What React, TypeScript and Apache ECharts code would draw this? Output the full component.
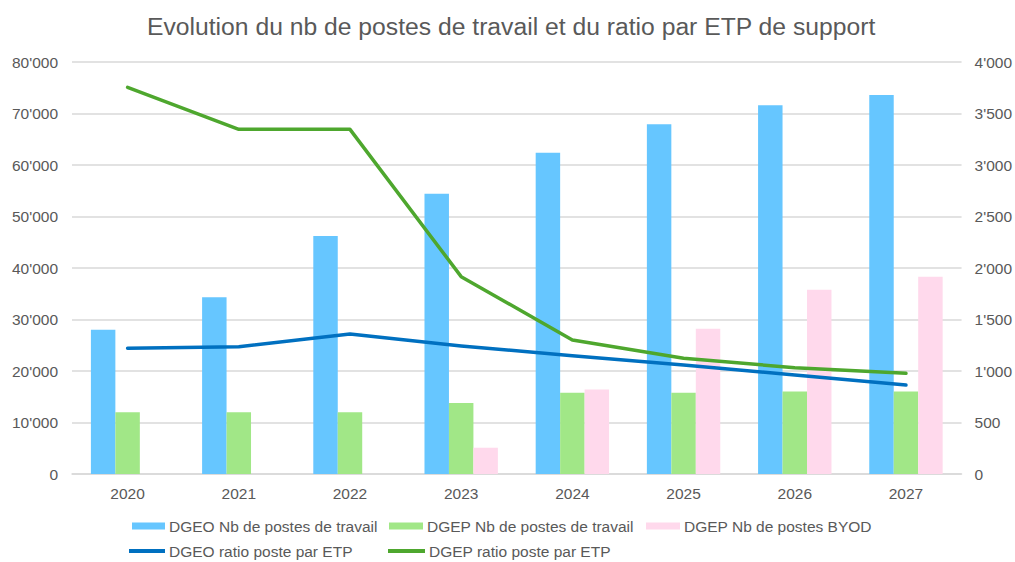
import React, { useEffect, useRef } from "react";
import * as echarts from "echarts";

const years = ["2020", "2021", "2022", "2023", "2024", "2025", "2026", "2027"];
const dgeoPostes = [28000, 34300, 46200, 54400, 62400, 67900, 71600, 73600];
const dgepPostes = [12000, 12000, 12000, 13800, 15800, 15800, 16000, 16000];
const dgepByod = [null, null, null, 5100, 16400, 28200, 35800, 38300];
const dgeoRatio = [1220, 1236, 1359, 1243, 1149, 1058, 961, 864];
const dgepRatio = [3754, 3346, 3346, 1916, 1301, 1123, 1032, 977];

const names = [
  "DGEO Nb de postes de travail",
  "DGEP Nb de postes de travail",
  "DGEP Nb de postes BYOD",
  "DGEO ratio poste par ETP",
  "DGEP ratio poste par ETP",
];

const FONT = "Liberation Sans, Arial, sans-serif";
const TXT = "#595959";
const fmt = (v: number) => String(v).replace(/\B(?=(\d{3})+(?!\d))/g, "'");

export default function App() {
  const ref = useRef<HTMLDivElement>(null);
  useEffect(() => {
    const chart = echarts.init(ref.current!, null, { renderer: "svg" });
    const legendBase = {
      padding: 0,
      itemGap: 0,
      textStyle: { fontFamily: FONT, fontSize: 15.5, color: TXT, padding: [0, 0, 0, -1] },
      selectedMode: false,
    };
    chart.setOption({
      animation: false,
      backgroundColor: "#fff",
      title: {
        text: "Evolution du nb de postes de travail et du ratio par ETP de support",
        left: 147,
        top: 14,
        padding: 0,
        textStyle: { fontFamily: FONT, fontSize: 24.7, fontWeight: "normal", color: TXT },
      },
      legend: [
        { ...legendBase, data: [{ name: names[0], icon: "rect" }], left: 132, top: 518, itemWidth: 33, itemHeight: 7 },
        { ...legendBase, data: [{ name: names[1], icon: "rect" }], left: 389, top: 518, itemWidth: 34, itemHeight: 7 },
        { ...legendBase, data: [{ name: names[2], icon: "rect" }], left: 646, top: 518, itemWidth: 34, itemHeight: 7 },
        { ...legendBase, data: [{ name: names[3], icon: "rect" }], left: 129, top: 543, itemWidth: 36, itemHeight: 4 },
        { ...legendBase, data: [{ name: names[4], icon: "rect" }], left: 388, top: 543, itemWidth: 37, itemHeight: 4 },
      ],
      grid: { left: 72, right: 53, top: 62, bottom: 88, containLabel: false },
      xAxis: {
        type: "category",
        data: years,
        axisLine: { lineStyle: { color: "#D9D9D9", width: 1.5 } },
        axisTick: { show: false },
        axisLabel: { fontFamily: FONT, fontSize: 15.5, color: TXT, margin: 11 },
      },
      yAxis: [
        {
          type: "value",
          min: 0,
          max: 80000,
          interval: 10000,
          axisLine: { show: false },
          axisTick: { show: false },
          splitLine: { lineStyle: { color: "#D9D9D9", width: 1.5 } },
          axisLabel: { fontFamily: FONT, fontSize: 15.5, color: TXT, margin: 14, formatter: fmt },
        },
        {
          type: "value",
          min: 0,
          max: 4000,
          interval: 500,
          axisLine: { show: false },
          axisTick: { show: false },
          splitLine: { show: false },
          axisLabel: { fontFamily: FONT, fontSize: 15.5, color: TXT, margin: 13, formatter: fmt },
        },
      ],
      series: [
        {
          name: names[0],
          type: "bar",
          data: dgeoPostes,
          itemStyle: { color: "#66C6FF" },
          barGap: "0%",
          barCategoryGap: "34%",
        },
        {
          name: names[1],
          type: "bar",
          data: dgepPostes,
          itemStyle: { color: "#A1E787" },
          barGap: "0%",
          barCategoryGap: "34%",
        },
        {
          name: names[2],
          type: "bar",
          data: dgepByod,
          itemStyle: { color: "#FFD9EC" },
          barGap: "0%",
          barCategoryGap: "34%",
        },
        {
          name: names[3],
          type: "line",
          yAxisIndex: 1,
          data: dgeoRatio,
          symbol: "none",
          itemStyle: { color: "#0070C0" },
          lineStyle: { color: "#0070C0", width: 3.5, cap: "round", join: "round" },
        },
        {
          name: names[4],
          type: "line",
          yAxisIndex: 1,
          data: dgepRatio,
          symbol: "none",
          itemStyle: { color: "#4EA72E" },
          lineStyle: { color: "#4EA72E", width: 3.5, cap: "round", join: "round" },
        },
      ],
    });
    return () => chart.dispose();
  }, []);
  return <div ref={ref} style={{ width: 1015, height: 562, position: "absolute", left: 0, top: 0 }} />;
}
